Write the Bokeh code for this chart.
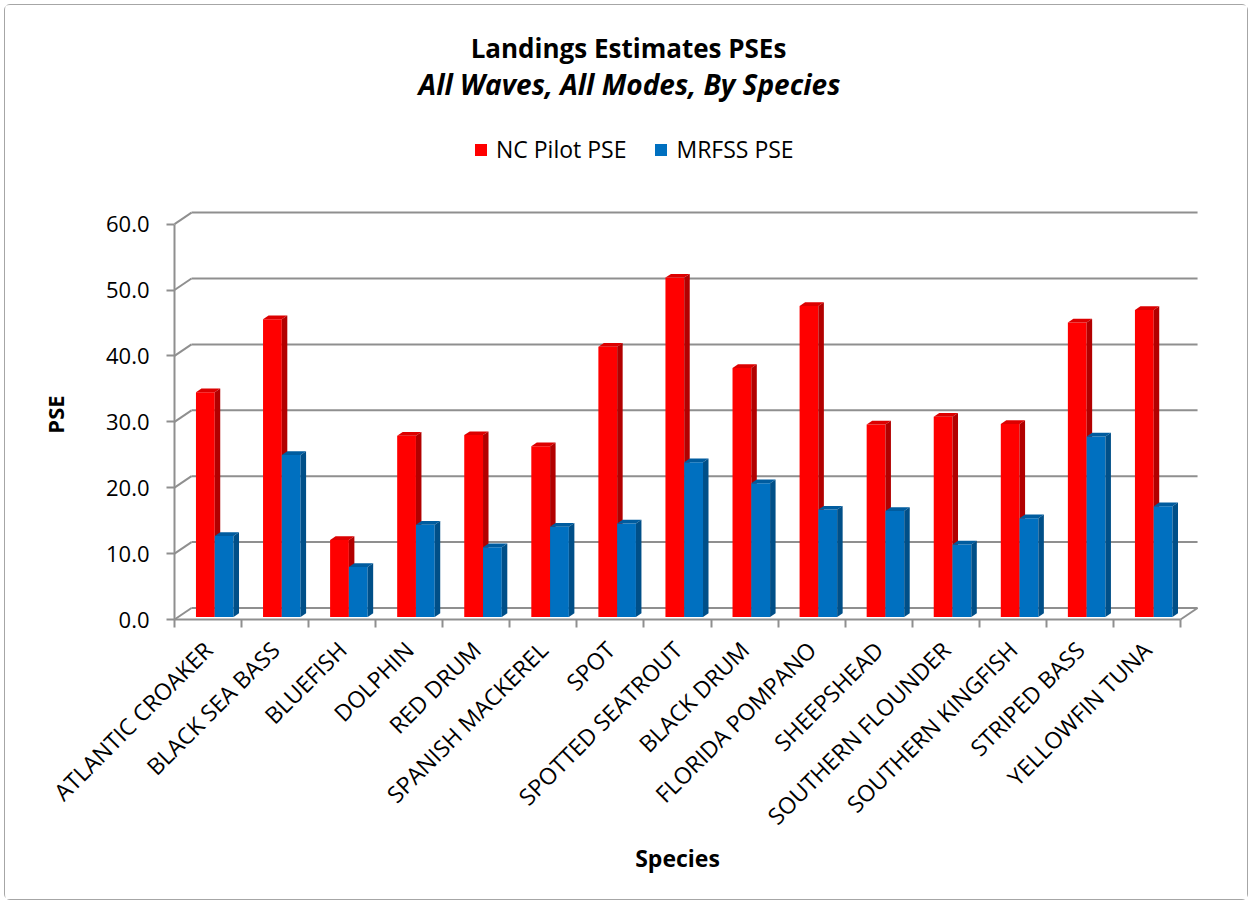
import math
from bokeh.plotting import figure
from bokeh.models import Range1d, FixedTicker, PrintfTickFormatter, Label, Legend, LegendItem
from bokeh.embed import file_html
from bokeh.resources import INLINE

# ---------------- data ----------------
species = ["ATLANTIC CROAKER", "BLACK SEA BASS", "BLUEFISH", "DOLPHIN", "RED DRUM",
           "SPANISH MACKEREL", "SPOT", "SPOTTED SEATROUT", "BLACK DRUM", "FLORIDA POMPANO",
           "SHEEPSHEAD", "SOUTHERN FLOUNDER", "SOUTHERN KINGFISH", "STRIPED BASS", "YELLOWFIN TUNA"]
nc_pilot = [34.1, 45.2, 11.7, 27.5, 27.6, 25.9, 41.0, 51.5, 37.8, 47.2, 29.2, 30.4, 29.3, 44.7, 46.6]
mrfss = [12.3, 24.6, 7.6, 14.0, 10.6, 13.7, 14.2, 23.5, 20.3, 16.3, 16.1, 11.0, 15.0, 27.4, 16.8]
y_ticks = [0, 10, 20, 30, 40, 50, 60]
series_names = ["NC Pilot PSE", "MRFSS PSE"]
title_text = "Landings Estimates PSEs"
subtitle_text = "All Waves, All Modes, By Species"
x_title = "Species"
y_title = "PSE"

# ---------------- layout ----------------
FONT = "Open Sans"
W, H = 1244, 896
OFF = 5                      # page offset of canvas (4px margin + 1px border)
AX_X, AX_Y = 174, 619        # page position of the chart origin
PXX, PXY = 67.07, 6.59       # px per category / px per unit
DX, DY = 17.0, 11.5          # 3-D wall depth in px
n = len(species)
ddx, ddy = DX / PXX, DY / PXY

def xd(px):
    return (px - AX_X) / PXX

def yd(py):
    return (AX_Y - py) / PXY

p = figure(width=W, height=H, output_backend="svg", toolbar_location=None,
           x_range=Range1d(xd(OFF), xd(OFF + W)), y_range=Range1d(yd(OFF + H), yd(OFF)),
           min_border_left=0, min_border_top=0, min_border_right=0, min_border_bottom=0)
p.title.visible = False
p.styles = {"border": "1px solid #a6a6a6", "border-radius": "6px",
            "margin-left": "4px", "margin-top": "4px"}
p.outline_line_color = None
p.grid.visible = False
p.background_fill_color = "white"
p.border_fill_color = "white"

GRID = "#8f8f8f"
# back wall gridlines
p.segment(x0=[ddx] * len(y_ticks), y0=[v + ddy for v in y_ticks],
          x1=[n + ddx] * len(y_ticks), y1=[v + ddy for v in y_ticks],
          line_color=GRID, line_width=2)
# side wall diagonals
p.segment(x0=[0] * len(y_ticks), y0=y_ticks, x1=[ddx] * len(y_ticks),
          y1=[v + ddy for v in y_ticks], line_color=GRID, line_width=2)
# floor right diagonal
p.segment(x0=[n], y0=[0], x1=[n + ddx], y1=[ddy], line_color=GRID, line_width=2)

# ---------------- bars (3-D look) ----------------
BAR_W = 0.28
BAR_OFF = 0.32
base = yd(616.5)
SDX, SDY = 5.5 / PXX, 3.7 / PXY

def draw_bars(vals, k, front, topc, side):
    lefts = [i + BAR_OFF + k * BAR_W for i in range(n)]
    rights = [l + BAR_W for l in lefts]
    tops = [base + v for v in vals]
    r = p.quad(left=lefts, right=rights, bottom=[base] * n, top=tops,
               fill_color=front, line_color=None)
    xs_t = [[l, rr, rr + SDX, l + SDX] for l, rr in zip(lefts, rights)]
    ys_t = [[t, t, t + SDY, t + SDY] for t in tops]
    p.patches(xs_t, ys_t, fill_color=topc, line_color=None)
    xs_s = [[rr, rr + SDX, rr + SDX, rr] for rr in rights]
    ys_s = [[base, base + SDY, t + SDY, t] for t in tops]
    p.patches(xs_s, ys_s, fill_color=side, line_color=None)
    return r

r_red = draw_bars(nc_pilot, 0, "#FF0000", "#DC0000", "#B20000")
r_blue = draw_bars(mrfss, 1, "#0070C0", "#005C9F", "#004F88")

# ---------------- axes ----------------
ya = p.yaxis[0]
ya.fixed_location = 0
ya.ticker = FixedTicker(ticks=y_ticks)
ya.bounds = (y_ticks[0], y_ticks[-1])
ya.formatter = PrintfTickFormatter(format="%.1f")
ya.axis_line_color = GRID
ya.axis_line_width = 2
ya.major_tick_line_color = GRID
ya.major_tick_line_width = 2
ya.major_tick_out = 8
ya.major_tick_in = 0
ya.minor_tick_line_color = None
ya.major_label_standoff = 17
ya.major_label_text_font = FONT
ya.major_label_text_font_size = "22px"
ya.major_label_text_color = "black"

xa = p.xaxis[0]
xa.fixed_location = 0
centers = [i + 0.5 for i in range(n)]
xa.ticker = FixedTicker(ticks=centers, minor_ticks=list(range(n + 1)))
xa.major_label_overrides = {c: s for c, s in zip(centers, species)}
xa.bounds = (0, n)
xa.axis_line_color = GRID
xa.axis_line_width = 2
xa.major_tick_out = 0
xa.major_tick_in = 0
xa.major_tick_line_color = None
xa.minor_tick_line_color = GRID
xa.minor_tick_line_width = 2
xa.minor_tick_out = 8
xa.minor_tick_in = 0
xa.major_label_orientation = math.pi / 4
xa.major_label_standoff = 18
xa.major_label_text_font = FONT
xa.major_label_text_font_size = "23px"
xa.major_label_text_color = "black"

# ---------------- texts ----------------
def add_text(text, px, py, size, style, angle=0.0):
    p.add_layout(Label(x=xd(px), y=yd(py), text=text, angle=angle, text_align="center",
                       text_baseline="alphabetic", text_font=FONT, text_font_style=style,
                       text_font_size=size, text_color="black"))

add_text(title_text, 628, 47, "26px", "bold")
add_text(subtitle_text, 629, 83, "28px", "bold italic")
add_text(y_title, 54, 414, "22px", "bold", math.pi / 2)
add_text(x_title, 677, 857, "23px", "bold")

legend = Legend(items=[LegendItem(label=series_names[0], renderers=[r_red]),
                       LegendItem(label=series_names[1], renderers=[r_blue])],
                orientation="horizontal",
                location=(473 - OFF, (OFF + H) - 165),
                glyph_width=15, glyph_height=15, label_standoff=8, spacing=27,
                padding=0, margin=0, border_line_color=None, background_fill_alpha=0,
                label_text_font=FONT, label_text_font_size="23px", label_text_color="black")
p.add_layout(legend)

open("out.html", "w").write(file_html(p, INLINE))
